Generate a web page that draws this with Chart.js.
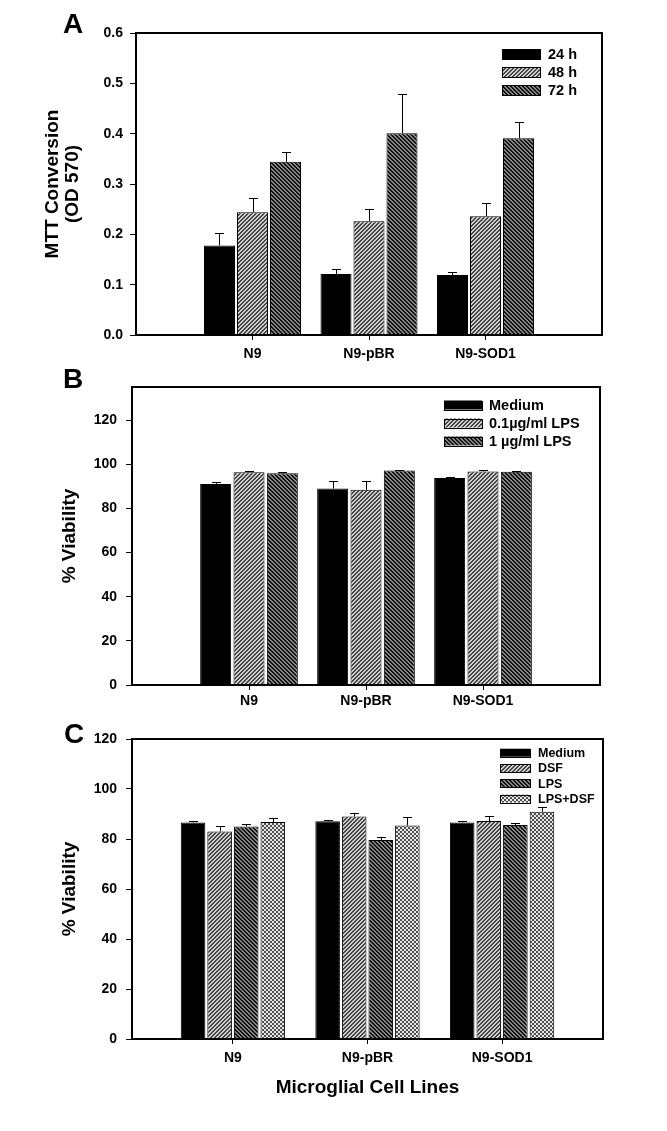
<!DOCTYPE html>
<html>
<head>
<meta charset="utf-8">
<title>Microglial cell lines</title>
<script src="https://cdn.jsdelivr.net/npm/chart.js@4.4.1/dist/chart.umd.min.js"></script>
<style>
  html, body { margin: 0; padding: 0; background: #fff; }
  #wrap { position: relative; width: 667px; height: 1131px; overflow: hidden; }
  canvas { position: absolute; left: 0; display: block; }
</style>
</head>
<body>
<div id="wrap">
  <canvas id="chartA" width="667" height="370" style="top:0"></canvas>
  <canvas id="chartB" width="667" height="360" style="top:360px"></canvas>
  <canvas id="chartC" width="667" height="416" style="top:715px"></canvas>
</div>
<script>
// ---- data ----
const cellLines = ['N9', 'N9-pBR', 'N9-SOD1'];

// A: MTT conversion
const mttSeries = ['24 h', '48 h', '72 h'];
const mtt24 = [0.178, 0.121, 0.119];
const mtt48 = [0.244, 0.226, 0.236];
const mtt72 = [0.344, 0.401, 0.391];
const mtt24Err = [0.024, 0.010, 0.007];
const mtt48Err = [0.028, 0.024, 0.027];
const mtt72Err = [0.020, 0.078, 0.032];
const mttTicks = [0, 0.1, 0.2, 0.3, 0.4, 0.5, 0.6];

// B: viability with LPS
const lpsSeries = ['Medium', '0.1\u00b5g/ml LPS', '1 \u00b5g/ml LPS'];
const lpsMedium = [91.1, 89.0, 93.8];
const lpsLow = [96.4, 88.4, 96.7];
const lpsHigh = [95.9, 97.2, 96.6];
const lpsMediumErr = [0.8, 3.2, 0.5];
const lpsLowErr = [0.4, 3.8, 0.6];
const lpsHighErr = [0.5, 0.2, 0.4];

// C: viability with DSF
const dsfSeries = ['Medium', 'DSF', 'LPS', 'LPS+DSF'];
const dsfMedium = [86.6, 87.1, 86.6];
const dsfDsf = [83.0, 89.0, 87.2];
const dsfLps = [85.0, 79.6, 85.6];
const dsfBoth = [86.8, 85.4, 90.9];
const dsfMediumErr = [0.8, 0.4, 0.8];
const dsfDsfErr = [2.0, 1.6, 2.2];
const dsfLpsErr = [1.0, 1.2, 0.8];
const dsfBothErr = [1.8, 3.3, 2.1];

const viabilityTicks = [0, 20, 40, 60, 80, 100, 120];

// ---- fills ----
const FONT = '"Liberation Sans", Arial, Helvetica, sans-serif';
Chart.defaults.font.family = FONT;
Chart.defaults.font.weight = 'bold';
Chart.defaults.color = '#000';

function tile(draw) {
  const c = document.createElement('canvas');
  c.width = 4; c.height = 4;
  const g = c.getContext('2d');
  draw(g);
  return g.createPattern(c, 'repeat');
}
function stripes(dir, fg, bg) {
  return tile(g => {
    g.fillStyle = bg; g.fillRect(0, 0, 4, 4);
    g.fillStyle = fg;
    for (let x = 0; x < 4; x++) {
      for (let y = 0; y < 4; y++) {
        const k = dir > 0 ? (x + y) % 4 : (x - y + 4) % 4;
        if (k < 2) g.fillRect(x, y, 1, 1);
      }
    }
  });
}
const checker = tile(g => {
  g.fillStyle = '#e6e6e6'; g.fillRect(0, 0, 4, 4);
  g.fillStyle = '#505050';
  g.fillRect(0, 0, 2, 2); g.fillRect(2, 2, 2, 2);
});
const fills = ['#000', stripes(1, '#444', '#d0d0d0'), stripes(-1, '#111', '#858585'), checker];

// error bars, frame, legend and panel letter
const panelDeco = {
  id: 'panelDeco',
  afterDatasetsDraw(chart, args, o) {
    const ctx = chart.ctx;
    const a = chart.chartArea;
    const ys = chart.scales.y;
    ctx.save();
    ctx.strokeStyle = '#000';
    ctx.lineWidth = 1;
    chart.data.datasets.forEach((ds, i) => {
      chart.getDatasetMeta(i).data.forEach((bar, j) => {
        const v = ds.data[j].y;
        const x = Math.round(bar.x) + 0.5;
        const y0 = ys.getPixelForValue(v);
        const y1 = Math.round(ys.getPixelForValue(v + ds.errors[j])) + 0.5;
        ctx.beginPath();
        ctx.moveTo(x, y0); ctx.lineTo(x, y1);
        ctx.moveTo(x - 4.5, y1); ctx.lineTo(x + 4.5, y1);
        ctx.stroke();
      });
    });

    ctx.lineWidth = 2;
    ctx.strokeRect(a.left, a.top, a.right - a.left, a.bottom - a.top);

    // legend
    const L = o.legend;
    ctx.font = 'bold ' + L.size + 'px ' + FONT;
    ctx.textBaseline = 'middle';
    ctx.textAlign = 'left';
    chart.data.datasets.forEach((ds, i) => {
      const cy = L.y + i * L.dy;
      ctx.fillStyle = ds.backgroundColor;
      ctx.fillRect(L.x, cy - L.h / 2, L.w, L.h);
      ctx.lineWidth = 1;
      ctx.strokeRect(L.x + 0.5, Math.round(cy - L.h / 2) + 0.5, L.w, L.h);
      ctx.fillStyle = '#000';
      ctx.fillText(ds.label, L.textX, cy + 1);
    });

    // panel letter
    ctx.font = 'bold 28px ' + FONT;
    ctx.textBaseline = 'alphabetic';
    ctx.fillText(o.letter, o.letterX, o.letterY);
    ctx.restore();
  }
};

function makeChart(id, cfg) {
  const datasets = cfg.series.map((vals, k) => ({
    label: cfg.names[k],
    data: vals.map((v, i) => ({ x: i, y: v })),
    errors: cfg.errors[k],
    backgroundColor: fills[k],
    borderColor: '#000',
    borderWidth: 1,
    categoryPercentage: cfg.catPct,
    barPercentage: cfg.barPct
  }));
  return new Chart(document.getElementById(id), {
    type: 'bar',
    data: { datasets },
    options: {
      responsive: false,
      animation: false,
      events: [],
      layout: { padding: cfg.padding },
      plugins: {
        legend: { display: false },
        tooltip: { enabled: false },
        panelDeco: { legend: cfg.legend, letter: cfg.letter, letterX: cfg.letterX, letterY: cfg.letterY }
      },
      scales: {
        x: {
          type: 'linear',
          min: cfg.xMin,
          max: cfg.xMax,
          offset: false,
          afterBuildTicks: s => { s.ticks = cellLines.map((c, i) => ({ value: i })); },
          afterFit: s => { s.height = cfg.xHeight; },
          ticks: {
            autoSkip: false,
            maxRotation: 0,
            padding: cfg.xPad,
            font: { size: 14, weight: 'bold' },
            callback: v => cellLines[v]
          },
          grid: { drawOnChartArea: false, offset: false, tickLength: 5, color: '#000' },
          border: { display: false },
          title: cfg.xTitle ? {
            display: true,
            text: cfg.xTitle,
            font: { size: 19, weight: 'bold', lineHeight: 1.2 },
            padding: { top: 0, bottom: 0 }
          } : { display: false }
        },
        y: {
          min: 0,
          max: cfg.yMax,
          afterBuildTicks: s => { s.ticks = cfg.yTicks.map(v => ({ value: v })); },
          afterFit: s => { s.width = cfg.yWidth; },
          ticks: {
            padding: cfg.yPad,
            font: { size: 14, weight: 'bold' },
            callback: cfg.yFormat
          },
          grid: { drawOnChartArea: false, tickLength: 6, color: '#000' },
          border: { display: false },
          title: {
            display: true,
            text: cfg.yTitle,
            font: { size: 19, weight: 'bold', lineHeight: 1.05 },
            padding: { top: cfg.yTitlePad, bottom: 0 }
          }
        }
      }
    },
    plugins: [panelDeco]
  });
}

makeChart('chartA', {
  names: mttSeries,
  series: [mtt24, mtt48, mtt72],
  errors: [mtt24Err, mtt48Err, mtt72Err],
  catPct: 0.85, barPct: 0.94,
  padding: { left: 0, right: 65, top: 33, bottom: 0 },
  xMin: -1, xMax: 3, xHeight: 35, xPad: 6,
  yMax: 0.6, yTicks: mttTicks, yWidth: 136, yPad: 7,
  yFormat: v => v.toFixed(1),
  yTitle: ['MTT Conversion', '(OD 570)'], yTitlePad: 43,
  legend: { x: 502, w: 38, h: 10, textX: 548, y: 54, dy: 18, size: 14.5 },
  letter: 'A', letterX: 63, letterY: 33
});

makeChart('chartB', {
  names: lpsSeries,
  series: [lpsMedium, lpsLow, lpsHigh],
  errors: [lpsMediumErr, lpsLowErr, lpsHighErr],
  catPct: 0.855, barPct: 0.93,
  padding: { left: 0, right: 67, top: 27, bottom: 0 },
  xMin: -1, xMax: 3, xHeight: 35, xPad: 3,
  yMax: 135, yTicks: viabilityTicks, yWidth: 132, yPad: 9,
  yFormat: v => String(v),
  yTitle: '% Viability', yTitlePad: 60,
  legend: { x: 444, w: 38, h: 9, textX: 489, y: 45, dy: 18, size: 14.5 },
  letter: 'B', letterX: 63, letterY: 28
});

makeChart('chartC', {
  names: dsfSeries,
  series: [dsfMedium, dsfDsf, dsfLps, dsfBoth],
  errors: [dsfMediumErr, dsfDsfErr, dsfLpsErr, dsfBothErr],
  catPct: 0.79, barPct: 0.925,
  padding: { left: 0, right: 64, top: 24, bottom: 32 },
  xMin: -0.75, xMax: 2.75, xHeight: 60, xPad: 6,
  xTitle: 'Microglial Cell Lines',
  yMax: 120, yTicks: viabilityTicks, yWidth: 132, yPad: 9,
  yFormat: v => String(v),
  yTitle: '% Viability', yTitlePad: 60,
  legend: { x: 500, w: 30, h: 8, textX: 538, y: 37.7, dy: 15.3, size: 12.5 },
  letter: 'C', letterX: 64, letterY: 28
});
</script>
</body>
</html>
